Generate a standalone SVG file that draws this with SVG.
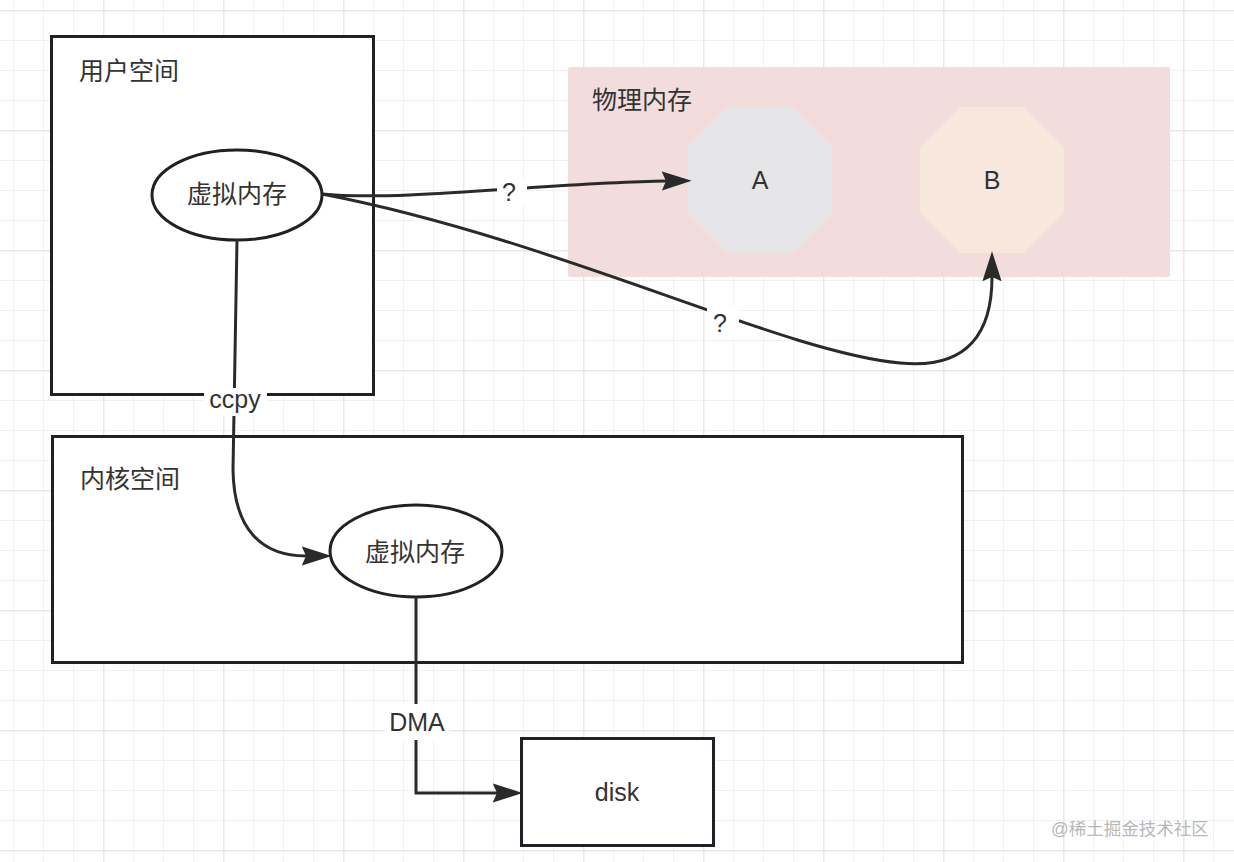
<svg xmlns="http://www.w3.org/2000/svg" width="1234" height="862" viewBox="0 0 1234 862">
<defs>
<style>
.lbl{font-family:"Liberation Sans","Noto Sans CJK SC",sans-serif;fill:#333;}
.cjk{font-family:"Liberation Sans","Noto Sans CJK SC",sans-serif;font-size:25px;fill:#333;}
.lat{font-family:"Liberation Sans","Noto Sans CJK SC",sans-serif;font-size:25px;fill:#333;}
.box{fill:#fff;stroke:#1e2227;stroke-width:3;}
.ell{fill:#fff;stroke:#1e2227;stroke-width:3;}
.edge{fill:none;stroke:#2a2a2a;stroke-width:3;}
.bg{fill:#fff;}
</style>
<pattern id="minor" x="13" y="10" width="30" height="30" patternUnits="userSpaceOnUse">
<path d="M0 0.5H30M0.5 0V30" fill="none" stroke="#f1f1f1" stroke-width="1"/>
</pattern>
<pattern id="major" x="103" y="10" width="120" height="120" patternUnits="userSpaceOnUse">
<path d="M0 0.75H120M0.75 0V120" fill="none" stroke="#e8e8e8" stroke-width="1.5"/>
</pattern>
<marker id="arr" markerUnits="userSpaceOnUse" markerWidth="30" markerHeight="20" viewBox="0 0 28 18" refX="4" refY="9" orient="auto">
<path d="M0 0L28 9L0 18L4 9Z" fill="#2a2a2a"/>
</marker>
</defs>
<rect width="1234" height="862" fill="#fff"/>
<rect width="1234" height="862" fill="url(#minor)"/>
<rect width="1234" height="862" fill="url(#major)"/>

<g id="physical-memory">
<rect x="568" y="67" width="602" height="210" rx="2" fill="#f2dcdc"/>
<text class="cjk" x="592" y="109">物理内存</text>
</g>
<g id="page-A">
<polygon points="728,107 792,107 832,147 832,213 792,253 728,253 688,213 688,147" fill="#e6e6e8"/>
<text class="lat" x="760" y="189" text-anchor="middle">A</text>
</g>
<g id="page-B">
<polygon points="960,107 1024,107 1064,147 1064,213 1024,253 960,253 920,213 920,147" fill="#f7e7dc"/>
<text class="lat" x="992" y="189" text-anchor="middle">B</text>
</g>
<g id="user-space">
<rect class="box" x="51.5" y="36.5" width="322" height="358"/>
<text class="cjk" x="79" y="80">用户空间</text>
</g>
<g id="kernel-space">
<rect class="box" x="52.5" y="436.5" width="910" height="226"/>
<text class="cjk" x="80" y="488">内核空间</text>
</g>
<g id="disk">
<rect class="box" x="521.5" y="738.5" width="192" height="107"/>
<text class="lat" x="617" y="801" text-anchor="middle">disk</text>
</g>
<g id="user-vm">
<ellipse class="ell" cx="237" cy="195" rx="85" ry="45"/>
<text class="cjk" x="237" y="203" text-anchor="middle">虚拟内存</text>
</g>
<g id="kernel-vm">
<ellipse class="ell" cx="416" cy="551" rx="86" ry="46"/>
<text class="cjk" x="415" y="561" text-anchor="middle">虚拟内存</text>
</g>

<g id="connectors">
<path class="edge" d="M322 194C400 202 560 182 666 181" marker-end="url(#arr)"/>
<path class="edge" d="M322 194C560 240 780 352 900 363C970 370 992 330 992 277" marker-end="url(#arr)"/>
<path class="edge" d="M237 240L233 470C234 530 262 556 306 556" marker-end="url(#arr)"/>
<path class="edge" d="M416 597V793H497" marker-end="url(#arr)"/>
<rect class="bg" x="497" y="178" width="30" height="28"/>
<text class="lat" x="509" y="201" text-anchor="middle">?</text>
<rect class="bg" x="707" y="306" width="32" height="32"/>
<text class="lat" x="720" y="332" text-anchor="middle">?</text>
<rect class="bg" x="204" y="388" width="63" height="28"/>
<text class="lat" x="235" y="408" text-anchor="middle">ccpy</text>
<rect class="bg" x="385" y="704" width="64" height="36"/>
<text class="lat" x="417" y="731" text-anchor="middle">DMA</text>
</g>

<text class="lbl" x="1051" y="835" font-size="17.5" style="fill:#b8b8b8">@稀土掘金技术社区</text>
</svg>
